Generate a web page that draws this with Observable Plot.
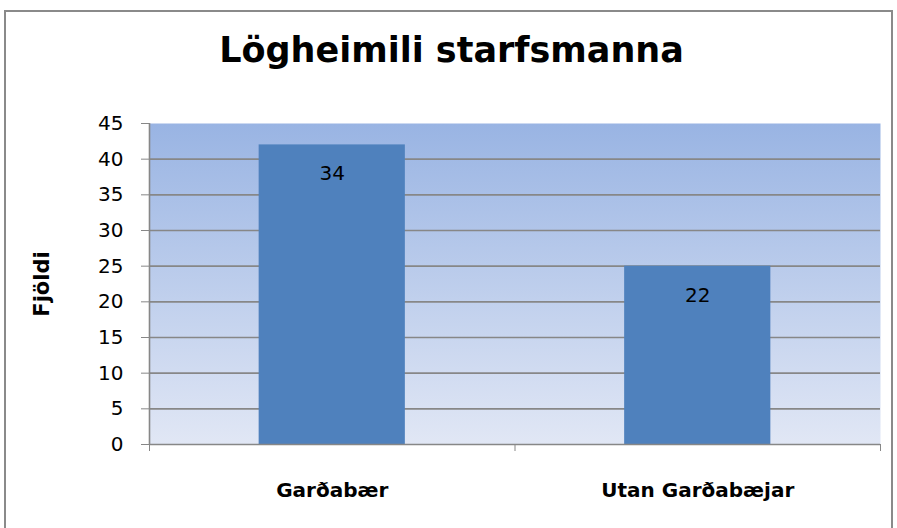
<!DOCTYPE html>
<html>
<head>
<meta charset="utf-8">
<script src="https://cdn.jsdelivr.net/npm/d3@7"></script>
<script src="https://cdn.jsdelivr.net/npm/@observablehq/plot@0.6"></script>
<style>
  html, body { margin: 0; padding: 0; background: #fff; overflow: hidden; }
  #frame {
    position: absolute; left: 4px; top: 10px; width: 889px; height: 530px;
    border: 2px solid #8a8a8a; box-sizing: border-box; background: #fff;
  }
  #title {
    height: 90px; box-sizing: border-box; padding-top: 16px;
    text-align: center; font-family: "DejaVu Sans", sans-serif;
    font-weight: bold; font-size: 35px; color: #000; line-height: 44px;
    padding-left: 6px;
  }
  #chart svg { display: block; }
</style>
</head>
<body>
<div id="frame">
  <div id="title">Lögheimili starfsmanna</div>
  <div id="chart"></div>
</div>
<script>
const categories = ["Garðabær", "Utan Garðabæjar"];
const values = [42, 25];
const valueLabels = ["34", "22"];
const yTicks = [0, 5, 10, 15, 20, 25, 30, 35, 40, 45];
const yLabel = "Fjöldi";

const data = categories.map((c, i) => ({category: c, index: i, value: values[i], label: valueLabels[i]}));
const n = categories.length;
const barPad = 0.3;

const defs = () => {
  const d = d3.create("svg:defs");
  const g = d.append("linearGradient").attr("id", "bgGrad")
    .attr("x1", 0).attr("y1", 0).attr("x2", 0).attr("y2", 1);
  g.append("stop").attr("offset", "0%").attr("stop-color", "#99b4e3");
  g.append("stop").attr("offset", "100%").attr("stop-color", "#e1e7f5");
  return d.node();
};

const font = "'DejaVu Sans', sans-serif";

const chart = Plot.plot({
  width: 885,
  height: 420,
  marginLeft: 143,
  marginRight: 11,
  marginTop: 21,
  marginBottom: 78,
  style: {fontFamily: font, background: "transparent"},
  x: {type: "linear", domain: [0, n], axis: null},
  y: {domain: [0, 45], axis: null},
  marks: [
    defs,
    Plot.frame({fill: "url(#bgGrad)", stroke: null}),
    Plot.ruleY(yTicks.filter(t => t > 0 && t < 45), {stroke: "#878787", strokeWidth: 1.6}),
    Plot.rectY(data, {x1: d => d.index + barPad, x2: d => d.index + 1 - barPad, y1: 0, y2: "value", fill: "#4f81bd"}),
    Plot.text(data, {x: d => d.index + 0.5, y: "value", text: "label", dy: 29, fontSize: 20, fill: "#000", lineAnchor: "middle"}),
    Plot.ruleY([0], {stroke: "#878787", strokeWidth: 1.6}),
    Plot.ruleX([0], {stroke: "#878787", strokeWidth: 1.6}),
    Plot.axisY({ticks: yTicks, tickSize: 8, tickPadding: 18, stroke: "#878787", fill: "#000", fontSize: 20, label: null, tickFormat: d => String(d)}),
    Plot.axisX({ticks: d3.range(n + 1), tickSize: 7, stroke: "#878787", tickFormat: () => "", label: null}),
    Plot.text(categories, {x: (d, i) => i + 0.5, frameAnchor: "bottom", dy: 46, text: d => d, fontSize: 20, fontWeight: "bold", fill: "#000", lineAnchor: "middle"}),
    Plot.text([yLabel], {frameAnchor: "left", dx: -107, rotate: -90, text: d => d, textAnchor: "middle", fontSize: 21, fontWeight: "bold", fill: "#000", lineAnchor: "middle"})
  ]
});
document.getElementById("chart").appendChild(chart);
</script>
</body>
</html>
